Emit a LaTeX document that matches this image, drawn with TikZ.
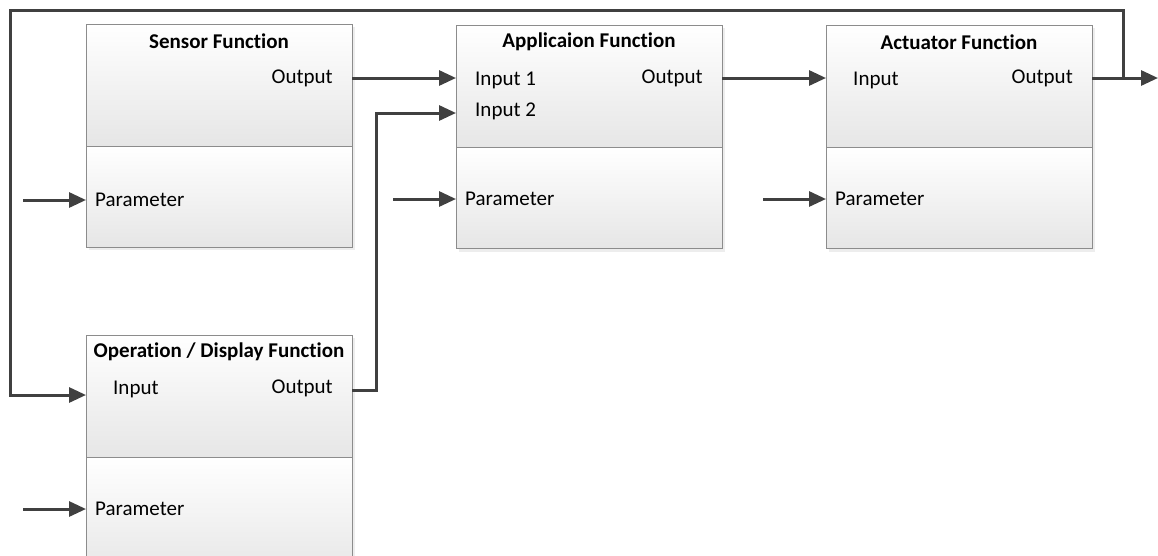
\documentclass[tikz,border=0pt]{standalone}
\usepackage{fontspec}
\setmainfont[Ligatures=NoCommon]{Carlito}
\usetikzlibrary{arrows.meta,calc}
\definecolor{wire}{HTML}{404040}
\definecolor{boxline}{HTML}{8C8C8C}
\definecolor{fillbot}{HTML}{E6E6E6}
\definecolor{shadowc}{HTML}{EDEDED}

\begin{document}
\begin{tikzpicture}[x=1pt,y=-1pt,
  part/.style={draw=boxline, line width=1pt, top color=white, bottom color=fillbot,
    minimum width=266pt, anchor=north west, inner sep=0pt, outer sep=0pt},
  upper/.style={part, minimum height=122pt},
  lower/.style={part, minimum height=101pt},
  title/.style={font=\fontsize{21}{24}\selectfont\bfseries, anchor=center, inner sep=0pt},
  port/.style={font=\fontsize{21}{24}\selectfont, inner sep=0pt},
  wireline/.style={draw=wire, line width=3pt},
  flow/.style={wireline, -{Triangle[length=17pt,width=15pt]}},
]
\useasboundingbox (0,0) rectangle (1158,555);
\clip (0,0) rectangle (1158,555);

% soft shadows behind the function blocks
\foreach \x/\y/\h in {86/24/223, 456/25/224, 826/25/224, 86/335/240}
  \fill[shadowc] (\x+3,\y+3) rectangle (\x+269,\y+\h+3);

% Sensor Function
\node[upper] (sensor) at (86,24) {};
\node[lower] (sensorP) at (sensor.south west) {};
\node[title] (sensorT) at ($(sensor.north)+(0,17)$) {Sensor Function};
\node[port, anchor=east] (sensorO) at ($(sensor.north east)+(-19,54)$) {Output};
\node[port, anchor=west] (sensorPar) at ($(sensorP.north west)+(9,54)$) {Parameter};

% Application Function
\node[upper] (app) at (456,25) {};
\node[lower] (appP) at (app.south west) {};
\node[title] (appT) at ($(app.north)+(0,17)$) {Applicaion Function};
\node[port, anchor=west] (appI1) at ($(app.north west)+(19,55)$) {Input 1};
\node[port, anchor=west] (appI2) at ($(app.north west)+(19,86)$) {Input 2};
\node[port, anchor=east] (appO) at ($(app.north east)+(-19,53)$) {Output};
\node[port, anchor=west] (appPar) at ($(appP.north west)+(9,52)$) {Parameter};

% Actuator Function
\node[upper] (act) at (826,25) {};
\node[lower] (actP) at (act.south west) {};
\node[title] (actT) at ($(act.north)+(0,17)$) {Actuator Function};
\node[port, anchor=west] (actI) at ($(act.north west)+(27,55)$) {Input};
\node[port, anchor=east] (actO) at ($(act.north east)+(-19,53)$) {Output};
\node[port, anchor=west] (actPar) at ($(actP.north west)+(9,52)$) {Parameter};

% Operation / Display Function
\node[upper] (op) at (86,335) {};
\node[lower, minimum height=120pt] (opP) at (op.south west) {};
\node[title] (opT) at ($(op.north)+(0,17)$) {Operation / Display Function};
\node[port, anchor=west] (opI) at ($(op.north west)+(27,54)$) {Input};
\node[port, anchor=east] (opO) at ($(op.north east)+(-19,53)$) {Output};
\node[port, anchor=west] (opPar) at ($(opP.north west)+(9,52)$) {Parameter};

% connection points on the block edges
\coordinate (sOut)  at ($(sensor.north east)+(0,54)$);
\coordinate (aIn1)  at ($(app.north west)+(0,53)$);
\coordinate (aIn2)  at ($(app.north west)+(0,88)$);
\coordinate (aOut)  at ($(app.north east)+(0,53)$);
\coordinate (cIn)   at ($(act.north west)+(0,53)$);
\coordinate (cOut)  at ($(act.north east)+(0,53)$);
\coordinate (oIn)   at ($(op.north west)+(0,60)$);
\coordinate (oOut)  at ($(op.north east)+(0,55)$);
\coordinate (split) at ($(cOut)+(31,0)$);
\coordinate (result) at (1158,78);

% parameter feeds
\coordinate (sParSrc) at ($(sensorP.north west)+(-63,54)$);
\coordinate (aParSrc) at ($(appP.north west)+(-63,52)$);
\coordinate (cParSrc) at ($(actP.north west)+(-63,52)$);
\coordinate (oParSrc) at ($(opP.north west)+(-63,52)$);

% signal flow
\draw[flow] (sOut) -- (aIn1);
\draw[flow] (oOut) -- ++(24,0) |- (aIn2);
\draw[flow] (aOut) -- (cIn);
\draw[flow] (cOut) -- (result);
\draw[flow] (split) -- (split |- 0,10) -- (10,10) |- (oIn);

\draw[flow] (sParSrc) -- (sensorP.west |- sParSrc);
\draw[flow] (aParSrc) -- (appP.west |- aParSrc);
\draw[flow] (cParSrc) -- (actP.west |- cParSrc);
\draw[flow] (oParSrc) -- (opP.west |- oParSrc);
\end{tikzpicture}
\end{document}
